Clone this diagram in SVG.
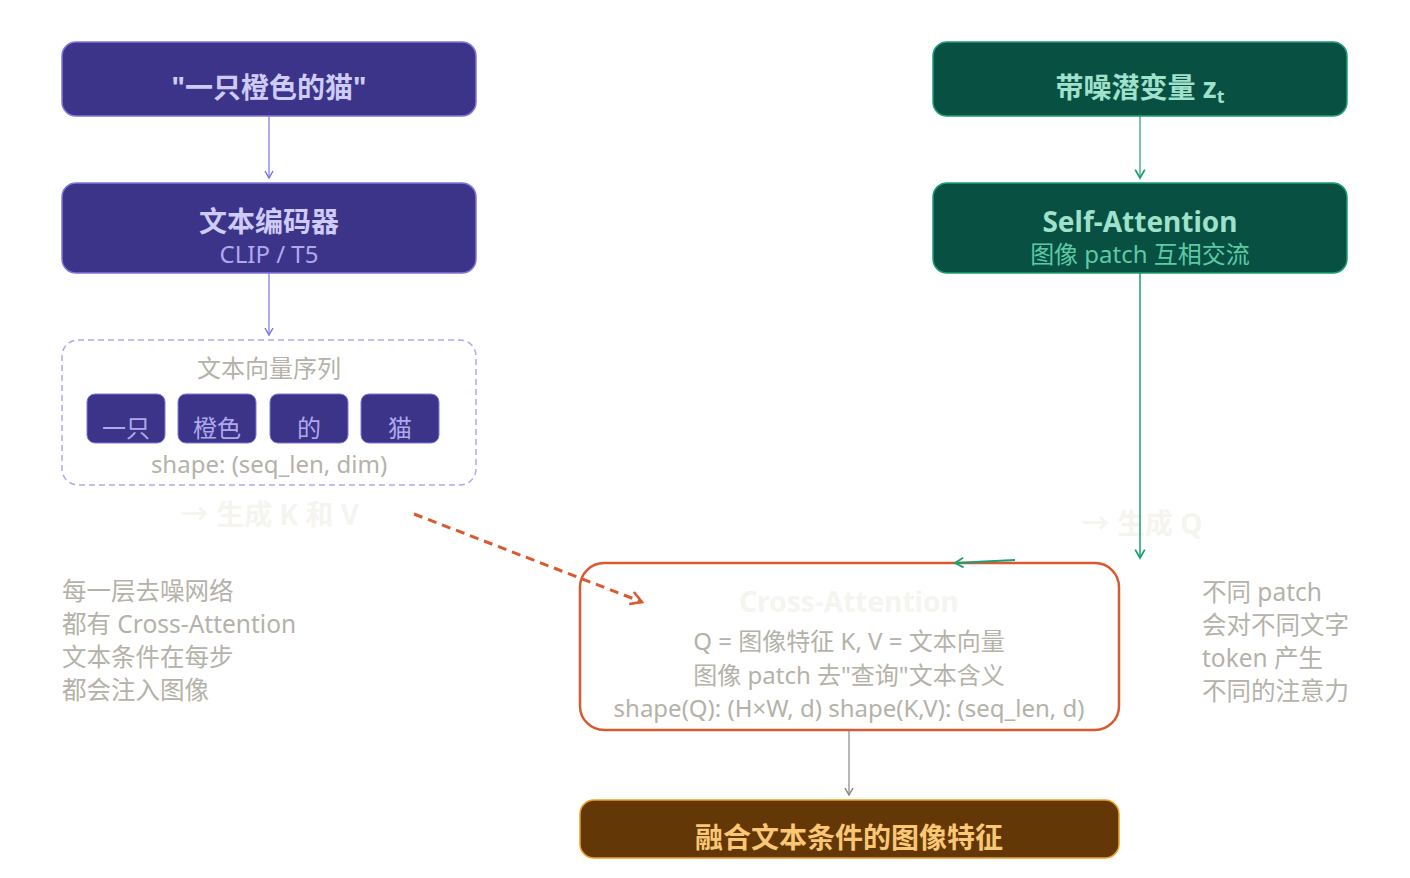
<svg xmlns="http://www.w3.org/2000/svg" width="1410" height="878" viewBox="0 0 1410 878">
<defs>
<style>
text{font-family:"Noto Sans","Noto Sans CJK SC",sans-serif;text-anchor:middle}
.t{font-size:28px;font-weight:bold}
.s{font-size:24px}
.g{fill:#b4b2a9;font-size:24px}
.ga{fill:#b4b2a9;font-size:24.5px;text-anchor:start}
.ghost{fill:#f5f4ee;font-size:28px;font-weight:bold}
.pbox{fill:#3c3489;stroke:#7f77dd;stroke-width:1.5}
.gbox{fill:#085041;stroke:#1d9e75;stroke-width:1.5}
.tok{fill:#3c3489;stroke:#7f77dd;stroke-width:1}
</style>
<marker id="ap" viewBox="0 0 10 10" refX="8" refY="5" markerWidth="10" markerHeight="10" orient="auto-start-reverse" markerUnits="userSpaceOnUse"><path d="M1 1L8 5L1 9" fill="none" stroke="#7f77dd" stroke-width="1.5"/></marker>
<marker id="ag" viewBox="0 0 10 10" refX="8" refY="5" markerWidth="12" markerHeight="12" orient="auto-start-reverse" markerUnits="userSpaceOnUse"><path d="M1 1L8 5L1 9" fill="none" stroke="#1d9e75" stroke-width="1.5"/></marker>
<marker id="ar" viewBox="0 0 10 10" refX="8" refY="5" markerWidth="16" markerHeight="16" orient="auto-start-reverse" markerUnits="userSpaceOnUse"><path d="M1 1L8 5L1 9" fill="none" stroke="#d85a30" stroke-width="1.6"/></marker>
<marker id="ak" viewBox="0 0 10 10" refX="8" refY="5" markerWidth="10" markerHeight="10" orient="auto-start-reverse" markerUnits="userSpaceOnUse"><path d="M1 1L8 5L1 9" fill="none" stroke="#888780" stroke-width="1.5"/></marker>
</defs>
<rect width="1410" height="878" fill="#ffffff"/>

<g id="prompt">
<rect class="pbox" x="62" y="42" width="414" height="74" rx="14"/>
<text class="t" x="269" y="98" fill="#cecbf6">"一只橙色的猫"</text>
</g>
<g id="encoder">
<rect class="pbox" x="62" y="183" width="414" height="90" rx="14"/>
<text class="t" x="269" y="232" fill="#cecbf6">文本编码器</text>
<text class="s" x="269" y="263" fill="#afa9ec">CLIP / T5</text>
</g>
<g id="textseq">
<rect x="62" y="340" width="414" height="145" rx="16" fill="none" stroke="#afa9ec" stroke-width="1.5" stroke-dasharray="6 4"/>
<text class="g" x="269" y="377">文本向量序列</text>
<rect class="tok" x="87" y="394" width="78" height="49" rx="8"/>
<rect class="tok" x="178" y="394" width="78" height="49" rx="8"/>
<rect class="tok" x="270" y="394" width="78" height="49" rx="8"/>
<rect class="tok" x="361" y="394" width="78" height="49" rx="8"/>
<text class="s" x="126" y="437" fill="#afa9ec">一只</text>
<text class="s" x="217" y="437" fill="#afa9ec">橙色</text>
<text class="s" x="309" y="437" fill="#afa9ec">的</text>
<text class="s" x="400" y="437" fill="#afa9ec">猫</text>
<text class="g" x="269" y="473">shape: (seq_len, dim)</text>
</g>
<g id="genkv"><text class="ghost" x="270" y="525">→ 生成 K 和 V</text></g>

<g id="latent">
<rect class="gbox" x="933" y="42" width="414" height="74" rx="14"/>
<text class="t" x="1140" y="98" fill="#9fe1cb">带噪潜变量 z<tspan font-size="18" dy="5">t</tspan></text>
</g>
<g id="selfattn">
<rect class="gbox" x="933" y="183" width="414" height="90" rx="14"/>
<text class="t" x="1140" y="232" fill="#9fe1cb">Self-Attention</text>
<text class="s" x="1140" y="263" fill="#5dcaa5">图像 patch 互相交流</text>
</g>
<g id="genq"><text class="ghost" x="1142" y="534">→ 生成 Q</text></g>

<g id="crossattn">
<rect x="580" y="563" width="539" height="167" rx="24" fill="#ffffff" stroke="#d85a30" stroke-width="2.5"/>
<text class="ghost" x="849" y="612">Cross-Attention</text>
<text class="g" x="849" y="650">Q = 图像特征 K, V = 文本向量</text>
<text class="g" x="849" y="684">图像 patch 去"查询"文本含义</text>
<text class="g" x="849" y="717">shape(Q): (H×W, d) shape(K,V): (seq_len, d)</text>
</g>
<g id="fused">
<rect x="580" y="800" width="539" height="58" rx="14" fill="#633806" stroke="#ef9f27" stroke-width="1.5"/>
<text class="t" x="849" y="848" fill="#fac775">融合文本条件的图像特征</text>
</g>

<g id="note-left">
<text class="ga" x="62" y="600">每一层去噪网络</text>
<text class="ga" x="62" y="633">都有 Cross-Attention</text>
<text class="ga" x="62" y="666">文本条件在每步</text>
<text class="ga" x="62" y="699">都会注入图像</text>
</g>
<g id="note-right">
<text class="ga" x="1202" y="601">不同 patch</text>
<text class="ga" x="1202" y="634">会对不同文字</text>
<text class="ga" x="1202" y="667">token 产生</text>
<text class="ga" x="1202" y="700">不同的注意力</text>
</g>

<g id="connectors" fill="none">
<line x1="269" y1="116" x2="269" y2="178" stroke="#7f77dd" stroke-width="1.2" marker-end="url(#ap)"/>
<line x1="269" y1="273" x2="269" y2="335" stroke="#7f77dd" stroke-width="1.2" marker-end="url(#ap)"/>
<line x1="1140" y1="116" x2="1140" y2="178" stroke="#1d9e75" stroke-width="1.2" marker-end="url(#ag)"/>
<line x1="1140" y1="273" x2="1140" y2="558" stroke="#1d9e75" stroke-width="1.5" marker-end="url(#ag)"/>
<line x1="1015" y1="560" x2="955" y2="563" stroke="#1d9e75" stroke-width="2.2" marker-end="url(#ag)"/>
<line x1="414" y1="514" x2="642" y2="602" stroke="#d85a30" stroke-width="3" stroke-dasharray="9 6" marker-end="url(#ar)"/>
<line x1="849" y1="730" x2="849" y2="795" stroke="#888780" stroke-width="1.2" marker-end="url(#ak)"/>
</g>
</svg>
